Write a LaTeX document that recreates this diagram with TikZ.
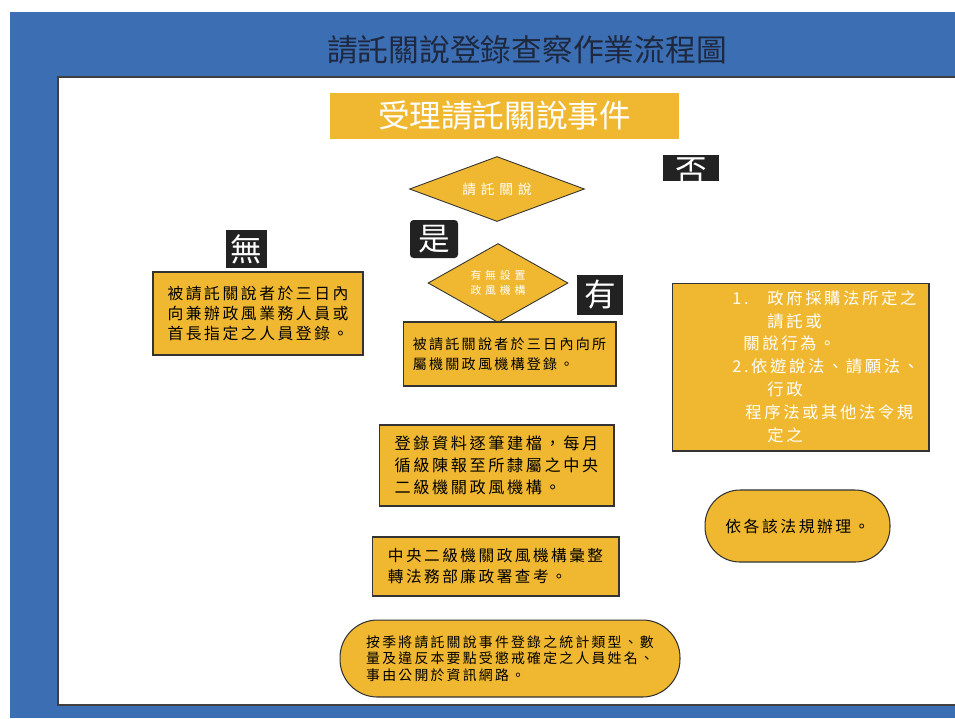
\documentclass[tikz,border=0pt]{standalone}
\usepackage{fontspec}
\setmainfont{Noto Sans CJK TC}
\newfontfamily\boxfont[LetterSpace=16]{Noto Sans CJK TC}
\newfontfamily\diafont[LetterSpace=35]{Noto Sans CJK TC}
\usetikzlibrary{shapes.geometric}
\definecolor{frameblue}{RGB}{60,110,180}
\definecolor{flowyellow}{RGB}{240,184,48}
\definecolor{titleink}{RGB}{30,40,62}
\definecolor{tagblack}{RGB}{34,34,34}

\begin{document}
\begin{tikzpicture}[x=0.02cm, y=-0.02cm,
    flowbox/.style={draw=black!80, line width=0.6pt, fill=flowyellow, align=left, inner sep=0pt},
    decision/.style={diamond, draw=black!80, line width=0.5pt, fill=flowyellow, text=white, inner sep=0pt, align=center},
    answertag/.style={fill=tagblack, text=white, inner sep=0pt, font=\fontsize{18}{18}\selectfont}]
    \useasboundingbox (0,0) rectangle (955,718);
    \fill [white] (0,0) rectangle (955,718);
    \fill [frameblue] (10,12) rectangle (955,718);
    \fill [white] (58,77) rectangle (955,705);
    \draw [black!75, line width=0.8pt] (955,77) -- (58,77) -- (58,705) -- (955,705);

    \node (title) [text=titleink, font=\fontsize{17.5}{20}\selectfont] at (527,50) {請託關說登錄查察作業流程圖};
    \node (start) [fill=flowyellow, text=white, minimum width=6.98cm, minimum height=0.92cm, font=\fontsize{18}{18}\selectfont] at (504.5,116) {受理請託關說事件};

    % decisions
    \node (ask) [decision, aspect=2.7, minimum width=3.5cm, minimum height=1.3cm, font=\diafont\fontsize{7.8}{9}\selectfont] at (497,189) {請託關說};
    \node (office) [decision, aspect=1.8, minimum width=2.8cm, minimum height=1.58cm, font=\diafont\fontsize{6.2}{8.5}\selectfont] at (498,283) {有無設置\\政風機構};

    % answers
    \begin{scope}
      \clip (663,155) rectangle (719,180);
      \node (no) [answertag, minimum width=1.12cm, minimum height=1cm] at (691,171) {否};
    \end{scope}
    \node (yes) [answertag, rounded corners=2pt, minimum width=0.96cm, minimum height=0.76cm] at (434,239) {是};
    \node (none) [answertag, minimum width=0.82cm, minimum height=0.76cm] at (246.5,249) {無};
    \node (has) [answertag, minimum width=0.92cm, minimum height=0.8cm] at (600,295) {有};

    % steps
    \node (selfreg) [flowbox, minimum width=4.2cm, minimum height=1.66cm, font=\boxfont\fontsize{9}{11.3}\selectfont] at (258,313.5) {被請託關說者於三日內\\向兼辦政風業務人員或\\首長指定之人員登錄。};
    \node (unitreg) [flowbox, minimum width=4.26cm, minimum height=1.28cm, font=\boxfont\fontsize{8}{11}\selectfont] at (509.5,354) {被請託關說者於三日內向所\\屬機關政風機構登錄。};
    \node (filing) [flowbox, minimum width=4.7cm, minimum height=1.62cm, font=\boxfont\fontsize{9.2}{12.5}\selectfont] at (496.5,465.5) {登錄資料逐筆建檔，每月\\循級陳報至所隸屬之中央\\二級機關政風機構。};
    \node (review) [flowbox, minimum width=4.94cm, minimum height=1.18cm, font=\boxfont\fontsize{8.9}{12}\selectfont] at (495.5,566.5) {中央二級機關政風機構彙整\\轉法務部廉政署查考。};
    \node (publish) [flowbox, rounded corners=0.75cm, minimum width=6.8cm, minimum height=1.54cm, font=\boxfont\fontsize{7.9}{9.4}\selectfont] at (510,658.5) {按季將請託關說事件登錄之統計類型、數\\量及違反本要點受懲戒確定之人員姓名、\\事由公開於資訊網路。};

    % other laws
    \node (rulebox) [flowbox, minimum width=5.14cm, minimum height=3.36cm] at (800.5,367) {};
    \node (rules) [anchor=north west, text=white, align=left, inner sep=0pt, font=\boxfont\fontsize{9.3}{13}\selectfont] at (732,290) {\makebox[0.7cm][l]{1.}政府採購法所定之\\\hspace*{0.7cm}請託或\\\hspace*{0.22cm}關說行為。\\2.依遊說法、請願法、\\\hspace*{0.7cm}行政\\\hspace*{0.26cm}程序法或其他法令規\\\hspace*{0.7cm}定之};
    \node (other) [flowbox, rounded corners=0.7cm, minimum width=3.7cm, minimum height=1.44cm, font=\boxfont\fontsize{9}{11}\selectfont] at (797.5,526) {依各該法規辦理。};
\end{tikzpicture}
\end{document}
